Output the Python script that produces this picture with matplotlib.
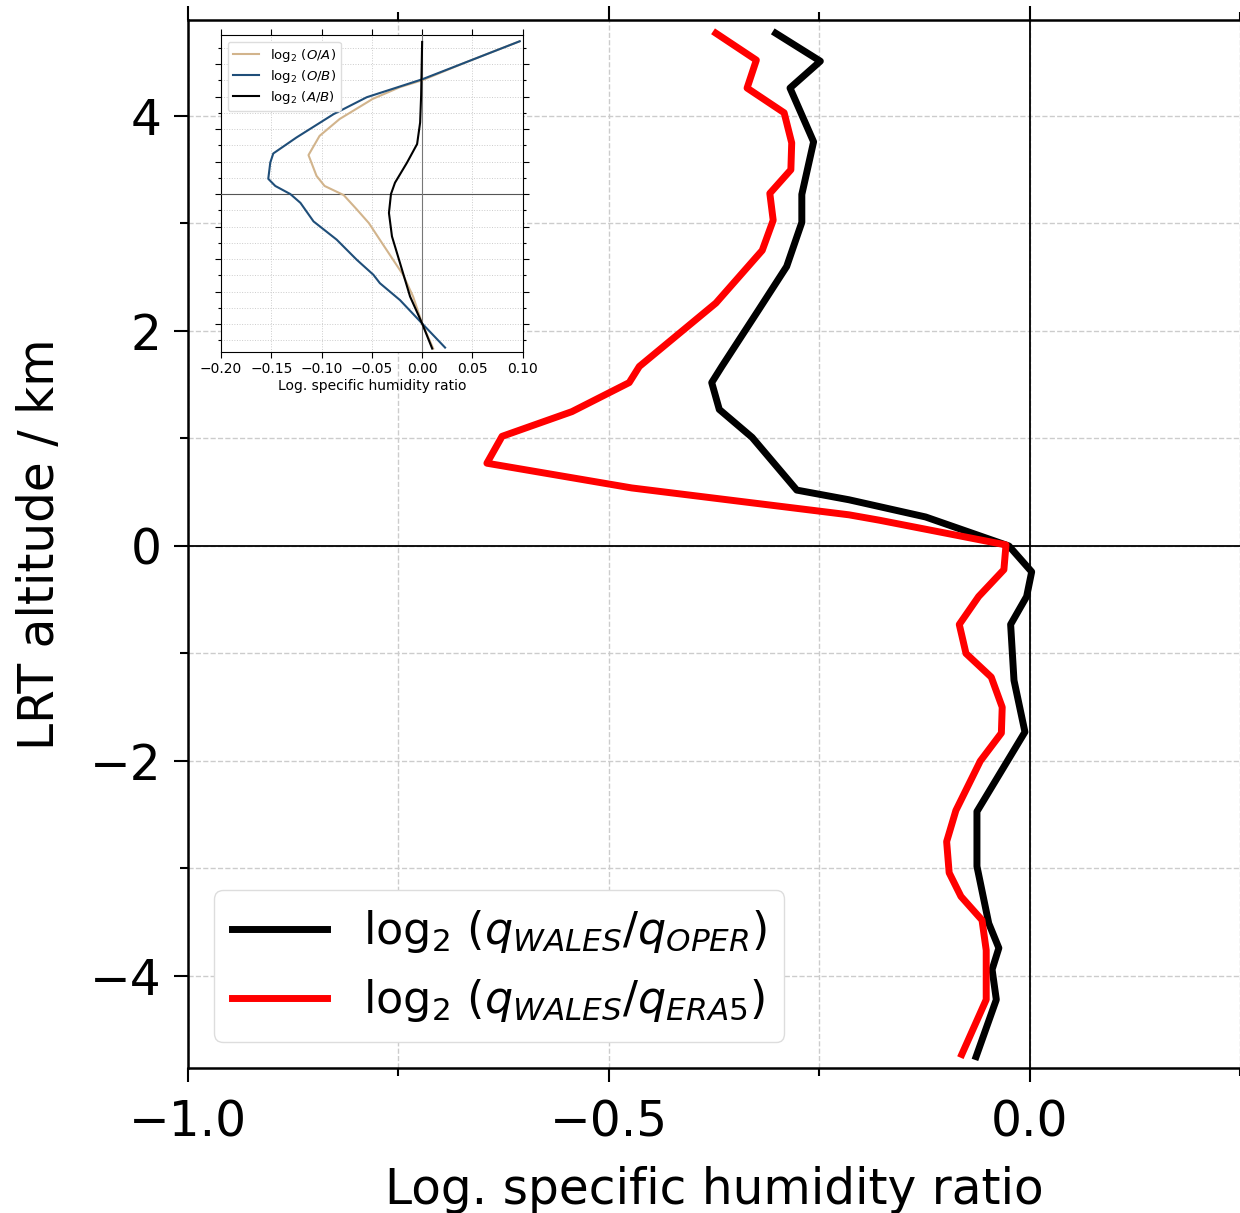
import matplotlib
matplotlib.use("Agg")
import matplotlib.pyplot as plt
from matplotlib.ticker import MultipleLocator

# ---------------- main data ----------------
oper_alt = [4.77, 4.51, 4.26, 3.76, 3.27, 3.01, 2.60, 2.20, 1.67, 1.52, 1.27, 1.01,
            0.52, 0.43, 0.27, 0.00, -0.24, -0.47, -0.73, -1.25, -1.73, -2.47, -2.98,
            -3.51, -3.74, -3.94, -4.22, -4.75]
oper_val = [-0.302, -0.249, -0.285, -0.257, -0.271, -0.271, -0.289, -0.322, -0.366,
            -0.378, -0.369, -0.330, -0.277, -0.215, -0.124, -0.025, 0.002, -0.004,
            -0.023, -0.019, -0.006, -0.063, -0.063, -0.049, -0.037, -0.045, -0.040,
            -0.064]

era5_alt = [4.77, 4.52, 4.26, 4.03, 3.75, 3.50, 3.28, 3.03, 2.75, 2.26, 1.67, 1.52,
            1.25, 1.02, 0.77, 0.54, 0.29, 0.24, 0.01, -0.22, -0.47, -0.73, -1.00,
            -1.22, -1.50, -1.74, -2.00, -2.46, -2.75, -3.04, -3.26, -3.48, -3.76,
            -4.22, -4.73]
era5_val = [-0.373, -0.325, -0.336, -0.292, -0.283, -0.284, -0.309, -0.305, -0.318,
            -0.373, -0.464, -0.476, -0.544, -0.627, -0.645, -0.473, -0.215, -0.179,
            -0.0285, -0.031, -0.061, -0.084, -0.076, -0.046, -0.033, -0.034, -0.059,
            -0.088, -0.099, -0.096, -0.082, -0.057, -0.052, -0.052, -0.081]

# ---------------- inset data ----------------
ob_alt = [4.70, 4.06, 3.53, 3.24, 2.98, 2.46, 1.74, 1.25, 0.97, 0.47, 0.25, 0.0,
          -0.27, -0.84, -1.40, -2.02, -2.48, -2.74, -3.26, -3.98, -4.72]
ob_val = [0.097, 0.044, 0.0, -0.029, -0.055, -0.088, -0.125, -0.148, -0.151, -0.153,
          -0.146, -0.131, -0.121, -0.108, -0.085, -0.065, -0.0485, -0.042, -0.022,
          0.0, 0.0228]

oa_alt = [4.70, 4.06, 3.50, 3.29, 2.93, 2.31, 1.79, 1.20, 0.56, 0.25, -0.03, -0.47,
          -0.89, -1.50, -2.48, -3.15, -3.98, -4.75]
oa_val = [0.097, 0.044, 0.0, -0.022, -0.049, -0.082, -0.102, -0.113, -0.105, -0.097,
          -0.078, -0.065, -0.053, -0.040, -0.019, -0.009, 0.0, 0.011]

ab_alt = [4.68, 3.03, 2.20, 1.54, 0.97, 0.35, 0.0, -0.58, -1.30, -2.12, -3.15, -3.98,
          -4.75]
ab_val = [0.0, -0.001, -0.002, -0.005, -0.015, -0.027, -0.031, -0.033, -0.030, -0.022,
          -0.012, 0.0, 0.010]

main_xticks = [-1.0, -0.5, 0.0]
main_yticks = [-4, -2, 0, 2, 4]
inset_xticks = [-0.20, -0.15, -0.10, -0.05, 0.00, 0.05, 0.10]

W, H = 1240, 1213
fig = plt.figure(figsize=(W / 100, H / 100), dpi=100)

FS = 35
ax = fig.add_axes([188 / W, 1 - 1068 / H, 1053.0 / W, (1068 - 20) / H])
ax.set_xlim(-1.0, 0.2506)
ax.set_ylim(-4.856, 4.893)

ax.plot(oper_val, oper_alt, color='black', lw=5, label=r'$\log_2\,(q_{WALES}/q_{OPER})$', zorder=4)
ax.plot(era5_val, era5_alt, color='red', lw=5, label=r'$\log_2\,(q_{WALES}/q_{ERA5})$', zorder=4)
ax.axhline(0, color='black', lw=1.3, zorder=3)
ax.axvline(0, color='black', lw=1.3, zorder=3)

ax.set_xticks(main_xticks)
ax.set_yticks(main_yticks)
ax.xaxis.set_minor_locator(MultipleLocator(0.25))
ax.yaxis.set_minor_locator(MultipleLocator(1))
ax.tick_params(which='both', direction='out', top=True, labelsize=FS, width=1.5)
ax.tick_params(which='major', length=10)
ax.tick_params(which='minor', length=6)
ax.tick_params(axis='x', which='major', pad=12)
ax.tick_params(axis='y', which='major', pad=9)
ax.grid(True, which='both', ls='--', color='#cccccc', lw=1.0)
for s in ax.spines.values():
    s.set_linewidth(1.8)
ax.spines['right'].set_visible(False)
ax.set_xlabel('Log. specific humidity ratio', fontsize=FS, labelpad=14)
ax.set_ylabel('LRT altitude / km', fontsize=FS, labelpad=19)

leg = ax.legend(loc='lower left', fontsize=32, handlelength=2.15, framealpha=1,
                edgecolor='#dddddd', fancybox=True, borderaxespad=0.58)

# ---------------- inset ----------------
ins = fig.add_axes([221 / W, 1 - 352 / H, 301.7 / W, (352 - 35) / H])
ins.set_xlim(-0.2, 0.1)
ins.set_ylim(-4.856, 4.893)
ins.plot(oa_val, oa_alt, color='#D2B48C', lw=1.5, label=r'$\log_2\,(O/A)$', zorder=4)
ins.plot(ob_val, ob_alt, color='#1f4e79', lw=1.5, label=r'$\log_2\,(O/B)$', zorder=4)
ins.plot(ab_val, ab_alt, color='black', lw=1.5, label=r'$\log_2\,(A/B)$', zorder=4)
ins.axhline(0, color='#555555', lw=0.8, zorder=3)
ins.axvline(0, color='#777777', lw=0.8, zorder=3)
ins.set_xticks(inset_xticks)
ins.yaxis.set_major_locator(MultipleLocator(1))
ins.yaxis.set_minor_locator(MultipleLocator(0.5))
ins.tick_params(which='both', direction='out', top=True, right=True, labelleft=False,
                labelsize=10, width=0.8)
ins.tick_params(which='major', length=4)
ins.tick_params(which='minor', length=2.5)
ins.grid(True, which='both', ls=':', color='#cccccc', lw=0.7)
ins.set_xlabel('Log. specific humidity ratio', fontsize=10, labelpad=2)
ins.legend(loc='upper left', fontsize=9.5, framealpha=1, edgecolor='#dddddd',
           handlelength=2.0, borderpad=0.4, labelspacing=0.3)

fig.savefig('out.png', dpi=100)
